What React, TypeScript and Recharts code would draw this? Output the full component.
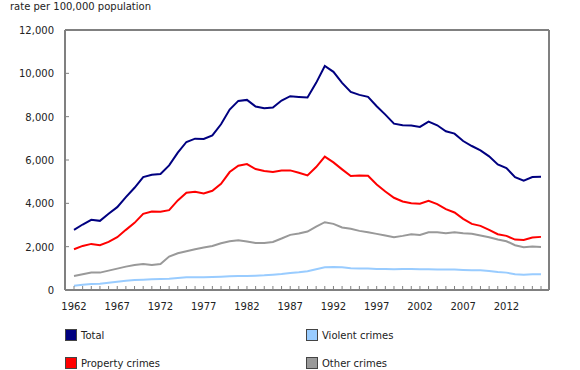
import React from 'react'
import { LineChart, Line, XAxis, YAxis, CartesianGrid } from 'recharts'

const YEARS = Array.from({ length: 55 }, (_, i) => 1962 + i)

const TOTAL = [
  2776, 3022, 3238, 3192, 3516, 3824, 4287, 4719, 5212, 5320,
  5351, 5752, 6338, 6831, 6985, 6970, 7139, 7648, 8327, 8728,
  8774, 8466, 8388, 8419, 8743, 8944, 8913, 8882, 9560, 10342,
  10069, 9560, 9144, 9005, 8913, 8481, 8096, 7679, 7602, 7587,
  7525, 7772, 7602, 7325, 7217, 6877, 6646, 6446, 6168, 5798,
  5628, 5212, 5042, 5212, 5227,
]
const PROPERTY = [
  1881, 2035, 2128, 2066, 2220, 2436, 2776, 3099, 3516, 3624,
  3608, 3685, 4133, 4487, 4533, 4456, 4580, 4904, 5443, 5736,
  5813, 5582, 5490, 5443, 5520, 5520, 5412, 5289, 5675, 6153,
  5890, 5567, 5258, 5289, 5274, 4873, 4549, 4256, 4086, 4009,
  3978, 4117, 3963, 3732, 3577, 3284, 3053, 2961, 2776, 2575,
  2498, 2328, 2313, 2421, 2452,
]
const VIOLENT = [
  200, 247, 278, 293, 339, 385, 432, 463, 478, 493,
  509, 524, 555, 586, 586, 586, 601, 617, 632, 648,
  648, 663, 678, 709, 740, 786, 817, 863, 956, 1049,
  1064, 1049, 1002, 987, 987, 971, 971, 956, 971, 971,
  956, 956, 941, 941, 941, 925, 910, 910, 879, 833,
  802, 725, 709, 725, 725,
]
const OTHER = [
  648, 725, 802, 802, 894, 987, 1079, 1157, 1203, 1157,
  1203, 1542, 1696, 1789, 1881, 1958, 2035, 2159, 2251, 2298,
  2236, 2174, 2174, 2220, 2375, 2544, 2606, 2698, 2930, 3130,
  3053, 2884, 2822, 2729, 2668, 2591, 2513, 2436, 2498, 2575,
  2544, 2668, 2668, 2621, 2668, 2621, 2591, 2513, 2436, 2328,
  2251, 2066, 1974, 2005, 1989,
]
const Y_TICKS = [0, 2000, 4000, 6000, 8000, 10000, 12000]

const SERIES = [
  { key: 'total', name: 'Total', color: '#000080' },
  { key: 'violent', name: 'Violent crimes', color: '#99CCFF' },
  { key: 'property', name: 'Property crimes', color: '#FF0000' },
  { key: 'other', name: 'Other crimes', color: '#999999' },
]

const data = YEARS.map((year, i) => ({
  year,
  total: TOTAL[i],
  property: PROPERTY[i],
  violent: VIOLENT[i],
  other: OTHER[i],
}))

const FONT = '"DejaVu Sans", Verdana, sans-serif'
const AXIS = '#808080'
const TEXT = '#222222'

const XTick = ({ x, y, payload }: any) => {
  const showLabel = (payload.value - 1962) % 5 === 0
  return (
    <g>
      <line x1={x} x2={x} y1={y} y2={y - 4} stroke={AXIS} strokeWidth={1} />
      {showLabel && (
        <text x={x} y={y + 20} textAnchor="middle" fontSize={10} fill={TEXT} fontFamily={FONT}>
          {payload.value}
        </text>
      )}
    </g>
  )
}

const YTick = ({ x, y, payload }: any) => (
  <g>
    <line x1={x} x2={x + 4} y1={y} y2={y} stroke={AXIS} strokeWidth={1} />
    <text x={x - 11} y={y} dy={4} textAnchor="end" fontSize={10} fill={TEXT} fontFamily={FONT}>
      {payload.value.toLocaleString('en-US')}
    </text>
  </g>
)

// grid used only for the top and right edges of the plot frame
const topEdge = ({ offset }: any) => [offset.top]
const rightEdge = ({ offset }: any) => [offset.left + offset.width]

export default function App() {
  return (
    <div style={{ position: 'absolute', left: 0, top: 0, width: 580, height: 370, background: '#fff', fontFamily: FONT }}>
      <div style={{ position: 'absolute', left: 10, top: 1, fontSize: 10, color: TEXT }}>
        rate per 100,000 population
      </div>
      <LineChart width={580} height={370} data={data} margin={{ top: 30, right: 31, left: 0, bottom: 60 }}>
        <CartesianGrid
          stroke={AXIS}
          strokeWidth={2}
          horizontalCoordinatesGenerator={topEdge}
          verticalCoordinatesGenerator={rightEdge}
        />
        <XAxis
          dataKey="year"
          interval={0}
          padding={{ left: 9, right: 8 }}
          height={20}
          tickSize={0}
          tickMargin={0}
          tickLine={false}
          tick={<XTick />}
          axisLine={{ stroke: AXIS, strokeWidth: 2 }}
        />
        <YAxis
          domain={[0, 12000]}
          ticks={Y_TICKS}
          width={65}
          tickSize={0}
          tickMargin={0}
          tickLine={false}
          tick={<YTick />}
          axisLine={{ stroke: AXIS, strokeWidth: 2 }}
        />
        {SERIES.map(s => (
          <Line
            key={s.key}
            type="linear"
            dataKey={s.key}
            name={s.name}
            stroke={s.color}
            strokeWidth={2}
            dot={false}
            isAnimationActive={false}
          />
        ))}
      </LineChart>
      {SERIES.map((s, i) => (
        <div
          key={s.key}
          style={{
            position: 'absolute',
            left: i % 2 === 0 ? 65 : 306,
            top: i < 2 ? 329 : 357,
            display: 'flex',
            alignItems: 'center',
            fontSize: 10,
            color: TEXT,
          }}
        >
          <div style={{ width: 10, height: 10, background: s.color, border: '1px solid #444', marginRight: 4 }} />
          <span>{s.name}</span>
        </div>
      ))}
    </div>
  )
}
